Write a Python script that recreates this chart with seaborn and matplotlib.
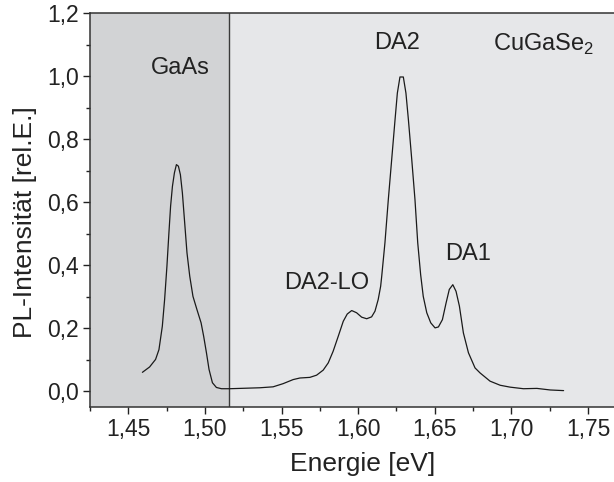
import numpy as np
import pandas as pd
import matplotlib
matplotlib.use('Agg')
import matplotlib.pyplot as plt
from matplotlib.ticker import MultipleLocator, FuncFormatter
import seaborn as sns

# PL spectrum
energy = [1.4592, 1.4639, 1.4678, 1.4700, 1.4722, 1.4737, 1.4752, 1.4765, 1.4776,
          1.4788, 1.4801, 1.4814, 1.4827, 1.4840, 1.4853, 1.4868, 1.4883, 1.4901,
          1.4922, 1.4948, 1.4975, 1.4992, 1.5010, 1.5027, 1.5049, 1.5075, 1.5108,
          1.5162, 1.5358, 1.5445, 1.5510, 1.5576, 1.5620, 1.5685, 1.5729, 1.5772,
          1.5805, 1.5837, 1.5870, 1.5903, 1.5929, 1.5958, 1.5990, 1.6023, 1.6056,
          1.6088, 1.6110, 1.6131, 1.6147, 1.6154, 1.6175, 1.6197, 1.6219, 1.6241,
          1.6256, 1.6273, 1.6295, 1.6312, 1.6328, 1.6350, 1.6371, 1.6389, 1.6408,
          1.6425, 1.6448, 1.6474, 1.6502, 1.6524, 1.6550, 1.6574, 1.6595, 1.6618,
          1.6639, 1.6661, 1.6687, 1.6720, 1.6763, 1.6796, 1.6861, 1.6927, 1.6992,
          1.7079, 1.7167, 1.7254, 1.7341]
intensity = [0.060, 0.077, 0.101, 0.132, 0.206, 0.291, 0.396, 0.502, 0.587,
             0.650, 0.693, 0.719, 0.714, 0.687, 0.629, 0.534, 0.439, 0.365,
             0.301, 0.259, 0.217, 0.174, 0.122, 0.069, 0.027, 0.012, 0.008,
             0.008, 0.011, 0.014, 0.024, 0.037, 0.042, 0.044, 0.051, 0.067,
             0.090, 0.127, 0.174, 0.222, 0.245, 0.256, 0.249, 0.235, 0.230,
             0.236, 0.254, 0.291, 0.333, 0.365, 0.471, 0.608, 0.735, 0.862,
             0.946, 0.997, 0.997, 0.946, 0.862, 0.735, 0.608, 0.471, 0.370,
             0.301, 0.249, 0.217, 0.201, 0.204, 0.227, 0.280, 0.323, 0.338,
             0.317, 0.270, 0.185, 0.122, 0.074, 0.058, 0.032, 0.019, 0.013,
             0.008, 0.009, 0.004, 0.002]

peak_labels = ['GaAs', 'DA2', 'CuGaSe$_2$', 'DA2-LO', 'DA1']
label_x = [1.4842, 1.6252, 1.6880, 1.5794, 1.6718]
label_y = [1.027, 1.106, 1.100, 0.344, 0.434]
label_ha = ['center', 'center', 'left', 'center', 'center']

gaas_edge = 1.516
xmin, xmax = 1.425, 1.767
ymin, ymax = -0.05, 1.2

df = pd.DataFrame({'energy': energy, 'intensity': intensity})

sns.set_style('ticks')
plt.rcParams['font.family'] = ['Liberation Sans', 'DejaVu Sans']
plt.rcParams['mathtext.fontset'] = 'custom'
plt.rcParams['mathtext.rm'] = 'Liberation Sans'

fig = plt.figure(figsize=(6.14, 4.82), dpi=100)
ax = fig.add_axes([90 / 614, 75 / 482, 524 / 614, 394 / 482])

ax.axvspan(xmin, gaas_edge, color='#d2d3d5', lw=0, zorder=0)
ax.axvspan(gaas_edge, xmax, color='#e6e7e9', lw=0, zorder=0)
ax.axvline(gaas_edge, color='#3a3a3a', lw=1.0, zorder=1)

sns.lineplot(data=df, x='energy', y='intensity', color='#1a1a1a', lw=0.9,
             sort=False, ax=ax, zorder=2)

for txt, x, y, ha in zip(peak_labels, label_x, label_y, label_ha):
    ax.text(x, y, txt, ha=ha, va='center', fontsize=17, color='#222222')

ax.set_xlim(xmin, xmax)
ax.set_ylim(ymin, ymax)
ax.xaxis.set_major_locator(MultipleLocator(0.05))
ax.xaxis.set_minor_locator(MultipleLocator(0.025))
ax.yaxis.set_major_locator(MultipleLocator(0.2))
ax.yaxis.set_minor_locator(MultipleLocator(0.1))
ax.xaxis.set_major_formatter(FuncFormatter(lambda v, p: f'{v:.2f}'.replace('.', ',')))
ax.yaxis.set_major_formatter(FuncFormatter(lambda v, p: f'{v:.1f}'.replace('.', ',')))

ax.tick_params(which='major', length=5, width=1, labelsize=16.5, colors='#222222', pad=3)
ax.tick_params(which='minor', length=3, width=1, colors='#222222')

for side in ['left', 'bottom', 'top']:
    ax.spines[side].set_color('#333333')
    ax.spines[side].set_linewidth(1.1)
ax.spines['right'].set_visible(False)

ax.set_xlabel('Energie [eV]', fontsize=19, color='#222222')
ax.set_ylabel('PL-Intensität [rel.E.]', fontsize=19, color='#222222')
ax.xaxis.set_label_coords(0.521, -0.114)
ax.yaxis.set_label_coords(-0.101, 0.47)

fig.savefig('out.png', dpi=100)
